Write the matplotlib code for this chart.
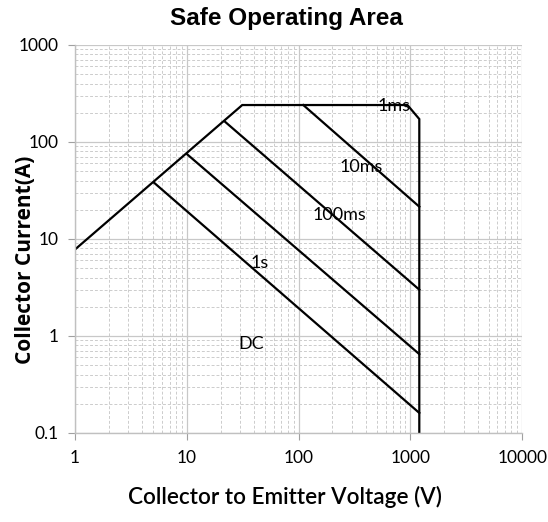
import numpy as np
import matplotlib.pyplot as plt
from matplotlib.ticker import LogLocator, NullFormatter, FixedLocator

# boundary of the SOA (rising current limit, flat limit, 1ms corner, voltage limit)
edge_v = [1, 31.3, 940, 1200, 1200]
edge_i = [7.8, 240, 240, 172, 0.1]

# pulse-width limit lines: (start V, start I) on the boundary -> (end V, end I) at 1200 V
pulse_names = ["10ms", "100ms", "1s", "DC"]
pulse_v0 = [110, 22, 10, 5.1]
pulse_i0 = [240, 161, 75, 37.9]
pulse_v1 = [1200, 1200, 1200, 1200]
pulse_i1 = [21.5, 3.0, 0.65, 0.161]

# text labels for the curves
label_names = ["1ms", "10ms", "100ms", "1s", "DC"]
label_v = [720, 365, 230, 45, 38]
label_i = [235, 55, 17.5, 5.6, 0.82]

xticks = [1, 10, 100, 1000, 10000]
yticks = [0.1, 1, 10, 100, 1000]

fig = plt.figure(figsize=(5.48, 5.22), dpi=100)
ax = fig.add_axes([0.137, 0.1705, 0.816, 0.7435])

ax.set_xscale("log")
ax.set_yscale("log")
ax.set_xlim(1, 10000)
ax.set_ylim(0.1, 1000)

ax.xaxis.set_major_locator(FixedLocator(xticks))
ax.yaxis.set_major_locator(FixedLocator(yticks))
ax.xaxis.set_minor_locator(LogLocator(base=10, subs=np.arange(2, 10)))
ax.yaxis.set_minor_locator(LogLocator(base=10, subs=np.arange(2, 10)))
ax.xaxis.set_minor_formatter(NullFormatter())
ax.yaxis.set_minor_formatter(NullFormatter())
ax.set_xticklabels([str(t) for t in xticks])
ax.set_yticklabels([str(t) for t in yticks])

ax.grid(which="major", color="#c8c8c8", linewidth=0.9, linestyle="-")
ax.grid(which="minor", color="#cccccc", linewidth=0.7, linestyle=(0, (3, 2)))
ax.set_axisbelow(True)

for side in ["left", "bottom", "top", "right"]:
    ax.spines[side].set_color("#c0c0c0")
    ax.spines[side].set_linewidth(1.0)
ax.spines["top"].set_visible(False)
ax.spines["right"].set_visible(False)

ax.tick_params(which="major", length=5, color="#a0a0a0", labelsize=12.5,
               labelcolor="black", pad=7, top=False, right=False)
ax.tick_params(which="minor", length=0)
for lab in ax.get_xticklabels() + ax.get_yticklabels():
    lab.set_family("Lato")

ax.plot(edge_v, edge_i, color="black", linewidth=1.6, solid_joinstyle="miter")
for v0, i0, v1, i1 in zip(pulse_v0, pulse_i0, pulse_v1, pulse_i1):
    ax.plot([v0, v1], [i0, i1], color="black", linewidth=1.6)

for name, v, i in zip(label_names, label_v, label_i):
    ax.text(v, i, name, fontsize=13, family="Lato", ha="center", va="center")

fig.text(0.522, 0.965, "Safe Operating Area", fontsize=17.5, fontweight="bold",
         family="Liberation Sans", ha="center", va="center")
ax.set_xlabel("Collector to Emitter Voltage (V)", fontsize=16.2, family="Lato",
              fontweight="semibold")
ax.xaxis.set_label_coords(0.469, -0.165)
ax.set_ylabel("Collector Current(A)", fontsize=15, family="Open Sans",
              fontweight="bold")
ax.yaxis.set_label_coords(-0.11, 0.446)
ax.yaxis.label.set_va("center")
ax.xaxis.label.set_va("center")

fig.savefig("out.png", dpi=100)
